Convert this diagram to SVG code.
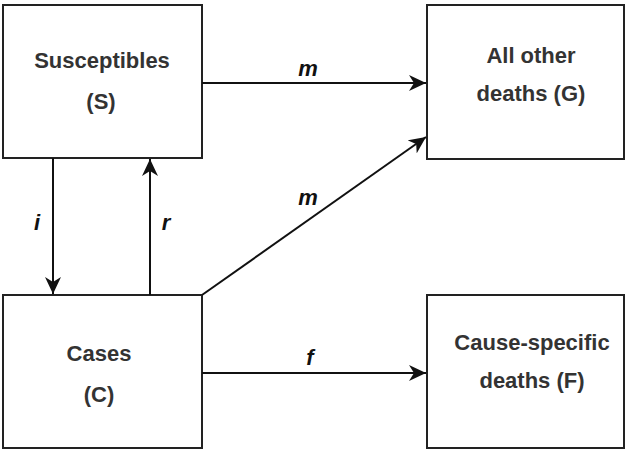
<svg xmlns="http://www.w3.org/2000/svg" width="626" height="450" viewBox="0 0 626 450">
<style>
.box{fill:#fff;stroke:#222;stroke-width:2}
.lbl{font-family:"Liberation Sans",Arial,sans-serif;font-weight:bold;font-size:22px;fill:#333;text-anchor:middle}
.rate{font-family:"Liberation Sans",Arial,sans-serif;font-weight:bold;font-style:italic;font-size:22px;fill:#111;text-anchor:middle}
.edge{fill:none;stroke:#111;stroke-width:2}
</style>
<defs>
<marker id="arr" markerUnits="userSpaceOnUse" markerWidth="18" markerHeight="16" viewBox="0 0 18 16" refX="17" refY="8" orient="auto">
<path d="M0,0 L17,8 L0,16 L5,8 z" fill="#111"/>
</marker>
</defs>
<rect width="626" height="450" fill="#fff"/>
<g id="S">
<rect class="box" x="3" y="5" width="199" height="153"/>
<text class="lbl" x="102" y="68">Susceptibles</text>
<text class="lbl" x="101" y="109">(S)</text>
</g>
<g id="G">
<rect class="box" x="427" y="5" width="197" height="154"/>
<text class="lbl" x="531" y="63">All other</text>
<text class="lbl" x="531" y="101">deaths (G)</text>
</g>
<g id="C">
<rect class="box" x="3" y="295" width="199" height="153"/>
<text class="lbl" x="99" y="361">Cases</text>
<text class="lbl" x="99" y="402">(C)</text>
</g>
<g id="F">
<rect class="box" x="427" y="295" width="197" height="153"/>
<text class="lbl" x="532" y="350">Cause-specific</text>
<text class="lbl" x="532" y="388">deaths (F)</text>
</g>
<g id="connectors">
<line class="edge" x1="202" y1="83" x2="426" y2="83" marker-end="url(#arr)"/>
<line class="edge" x1="202" y1="295" x2="426" y2="137" marker-end="url(#arr)"/>
<line class="edge" x1="202" y1="373" x2="426" y2="373" marker-end="url(#arr)"/>
<line class="edge" x1="53" y1="158" x2="53" y2="294" marker-end="url(#arr)"/>
<line class="edge" x1="150" y1="295" x2="150" y2="159" marker-end="url(#arr)"/>
<text class="rate" x="308" y="76">m</text>
<text class="rate" x="308" y="205">m</text>
<text class="rate" x="37" y="230">i</text>
<text class="rate" x="166" y="230">r</text>
<text class="rate" x="310" y="365">f</text>
</g>
</svg>
